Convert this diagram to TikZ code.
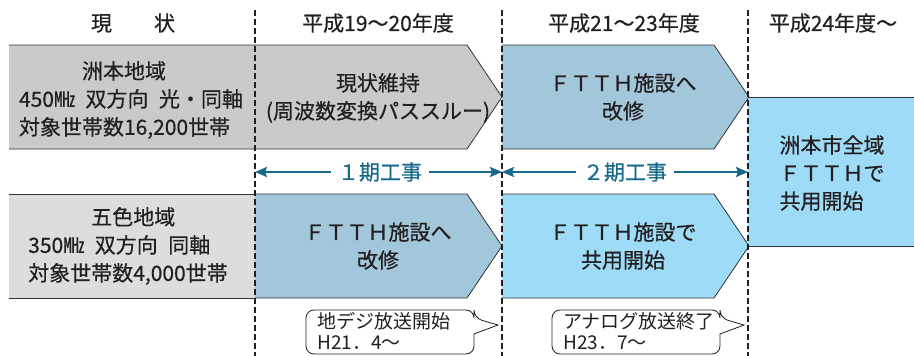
\documentclass[tikz,border=0pt]{standalone}
\usepackage{fontspec}
\setmainfont{Noto Sans CJK JP}
\newfontfamily\jpmed{Noto Sans CJK JP}[FakeBold=0.5]
\usetikzlibrary{arrows.meta}
\definecolor{ink}{HTML}{231F20}
\definecolor{greyA}{HTML}{C9CACB}
\definecolor{greyB}{HTML}{DCDDDE}
\definecolor{steel}{HTML}{A2C7DB}
\definecolor{sky}{HTML}{9DDBF6}
\definecolor{teal}{HTML}{17698C}
\begin{document}
\begin{tikzpicture}[>={Stealth[length=12pt,width=10pt,inset=2pt]},x=1pt,y=-1pt,
    rim/.style={draw=black!80,line width=0.8pt},
    lbl/.style={text=ink,font=\jpmed\fontsize{21}{28}\selectfont,align=center},
    phase/.style={text=teal,font=\jpmed\fontsize{21}{24}\selectfont,inner xsep=7pt},
    work/.style={->,draw=teal,line width=2.2pt},
    bubble/.style={draw=ink,line width=0.8pt,fill=white},
    note/.style={text=ink,font=\fontsize{19}{21}\selectfont,align=left,inner sep=0pt},
    cut/.style={draw=ink,line width=1.8pt,dash pattern=on 6pt off 3pt}]
  \useasboundingbox (0,0) rectangle (914,356);
  \fill[greyB] (9,194) rectangle (255,298);
  \draw[rim] (9,194) -- (255,194) (9,298) -- (255,298);
  \foreach \xa/\xb/\yt/\col in {9/467/45/greyA,502/714/45/steel,255/467/194/steel,502/714/194/sky}
    \draw[rim,fill=\col] (\xa,\yt) -- (\xb,\yt) -- (\xb+35,\yt+52) -- (\xb,\yt+104) -- (\xa,\yt+104);
  \fill[sky] (748,97) rectangle (914,246);
  \draw[rim] (748,97) -- (914,97) (748,246) -- (914,246);

  \node[lbl] (now) at (133,23) {現　　状};
  \node[lbl] (h19) at (378,23) {平成19～20年度};
  \node[lbl] (h21) at (624,23) {平成21～23年度};
  \node[lbl] (h24) at (833,23) {平成24年度～};

  \node[lbl,align=left] (sumoto) at (131,100) {　　　洲本地域\\450㎒\enskip 双方向\enskip 光・同軸\\対象世帯数16,200世帯};
  \node[lbl] (keep) at (378,98) {現状維持\\(周波数変換パススルー)};
  \node[lbl] (ftthA) at (623,97) {ＦＴＴＨ施設へ\\改修};
  \node[lbl,align=left] (all) at (832,173) {洲本市全域\\ＦＴＴＨで\\共用開始};
  \node[lbl,align=left] (goshiki) at (128,246) {　　　五色地域\\350㎒\enskip 双方向\enskip 同軸\\対象世帯数4,000世帯};
  \node[lbl] (ftthB) at (378,246) {ＦＴＴＨ施設へ\\改修};
  \node[lbl] (share) at (623,246) {ＦＴＴＨ施設で\\共用開始};

  \node[phase] (ph1) at (380,172) {１期工事};
  \node[phase] (ph2) at (625,172) {２期工事};
  \coordinate (c1) at (255,172);
  \coordinate (c2) at (502,172);
  \coordinate (c3) at (748,172);
  \draw[work] (ph1) -- (c1);
  \draw[work] (ph1) -- (c2);
  \draw[work] (ph2) -- (c2);
  \draw[work] (ph2) -- (c3);

  \draw[bubble] (390,310) [rounded corners=8pt] -- (474,310) -- (474,318) [sharp corners] -- (498,325) -- (474,334) [rounded corners=8pt] -- (474,354) -- (306,354) -- (306,310) -- cycle;
  \draw[bubble] (636,310) [rounded corners=8pt] -- (720,310) -- (720,318) [sharp corners] -- (744,325) -- (720,334) [rounded corners=8pt] -- (720,354) -- (552,354) -- (552,310) -- cycle;
  \node[note,anchor=north west] (dtv) at (317,312) {地デジ放送開始\\H21．4～};
  \node[note,anchor=north west] (analog) at (563,312) {アナログ放送終了\\H23．7～};

  \foreach \x in {255,502,748} \draw[cut] (\x,10) -- (\x,356);
\end{tikzpicture}
\end{document}
